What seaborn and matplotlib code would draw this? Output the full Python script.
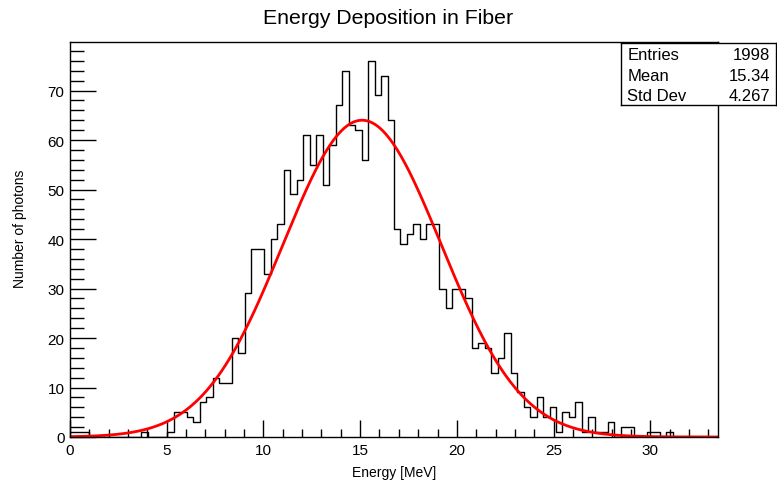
import numpy as np
import pandas as pd
import matplotlib
matplotlib.use('Agg')
import matplotlib.pyplot as plt
from matplotlib.ticker import MultipleLocator
import seaborn as sns

# --- datos del histograma (100 bins de 0 a 33.5 MeV) ---
x_min = 0.0
x_max = 33.5
n_bins = 100
counts = [1, 1, 1, 0, 0, 0, 0, 0, 0, 0,
          0, 1, 0, 0, 0, 1, 5, 5, 4, 3,
          7, 8, 12, 11, 11, 20, 17, 29, 38, 38,
          33, 40, 43, 54, 49, 52, 61, 55, 61, 51,
          59, 67, 74, 63, 62, 56, 76, 69, 73, 64,
          42, 39, 41, 43, 40, 43, 43, 30, 26, 30,
          30, 28, 18, 19, 18, 13, 16, 21, 13, 9,
          6, 4, 8, 4, 6, 1, 5, 4, 7, 1,
          4, 1, 1, 3, 0, 2, 2, 0, 0, 1,
          1, 0, 1, 0, 0, 0, 0, 0, 0, 0]

# --- parametros del ajuste gaussiano ---
fit_amp = 64.0
fit_mean = 15.1
fit_sigma = 4.1

# --- estadisticas ---
stats_labels = ['Entries', 'Mean', 'Std Dev']
stats_values = ['1998', '15.34', '4.267']

edges = np.linspace(x_min, x_max, n_bins + 1)
centers = 0.5 * (edges[:-1] + edges[1:])
df = pd.DataFrame({'energia': centers, 'n': counts})

xs = np.linspace(x_min, x_max, 500)
df_fit = pd.DataFrame({'energia': xs,
                       'y': fit_amp * np.exp(-0.5 * ((xs - fit_mean) / fit_sigma) ** 2)})

sns.set_style('white')
plt.rcParams['font.family'] = ['Liberation Sans', 'DejaVu Sans']
plt.rcParams['text.color'] = 'black'
plt.rcParams['axes.labelcolor'] = 'black'
plt.rcParams['xtick.color'] = 'black'
plt.rcParams['ytick.color'] = 'black'

fig = plt.figure(figsize=(7.77, 4.85), dpi=100)
ax = fig.add_axes([70 / 777, 1 - 438 / 485, 648 / 777, 395 / 485])

sns.histplot(data=df, x='energia', weights='n', bins=n_bins, binrange=(x_min, x_max),
             element='step', fill=False, color='black', linewidth=1.0, ax=ax)
sns.lineplot(data=df_fit, x='energia', y='y', color='#ff0000', linewidth=2.0, ax=ax)

ax.set_xlim(x_min, x_max)
ax.set_ylim(0, 79.8)

# --- ejes al estilo ROOT ---
ax.xaxis.set_major_locator(MultipleLocator(5))
ax.xaxis.set_minor_locator(MultipleLocator(1))
ax.yaxis.set_major_locator(MultipleLocator(10))
ax.yaxis.set_minor_locator(MultipleLocator(2))
ax.tick_params(which='both', bottom=True, left=True, top=False, right=False,
               direction='in', colors='black')
ax.tick_params(axis='x', which='major', length=12, width=1, labelsize=11, pad=4)
ax.tick_params(axis='x', which='minor', length=6, width=1)
ax.tick_params(axis='y', which='major', length=19, width=1, labelsize=11, pad=4)
ax.tick_params(axis='y', which='minor', length=10, width=1)
for s in ax.spines.values():
    s.set_color('black')
    s.set_linewidth(1.0)

ax.set_xlabel('Energy [MeV]', fontsize=10, labelpad=6)
ax.set_ylabel('Number of photons', fontsize=10)
ax.yaxis.set_label_coords(-0.066, 0.53)

fig.text(388 / 777, 1 - 18 / 485, 'Energy Deposition in Fiber', ha='center', va='center', fontsize=15.3)

# --- caja de estadisticas ---
box = fig.add_axes([621 / 777, 1 - 106 / 485, 155 / 777, 62 / 485])
box.set_xticks([])
box.set_yticks([])
box.set_xlim(0, 1)
box.set_ylim(0, 1)
for s in box.spines.values():
    s.set_color('black')
    s.set_linewidth(1.0)
for i, (lab, val) in enumerate(zip(stats_labels, stats_values)):
    yy = 1 - (i + 0.55) / 3
    box.text(0.04, yy, lab, ha='left', va='center', fontsize=12)
    box.text(0.96, yy, val, ha='right', va='center', fontsize=12)

fig.savefig('out.png', dpi=100)
